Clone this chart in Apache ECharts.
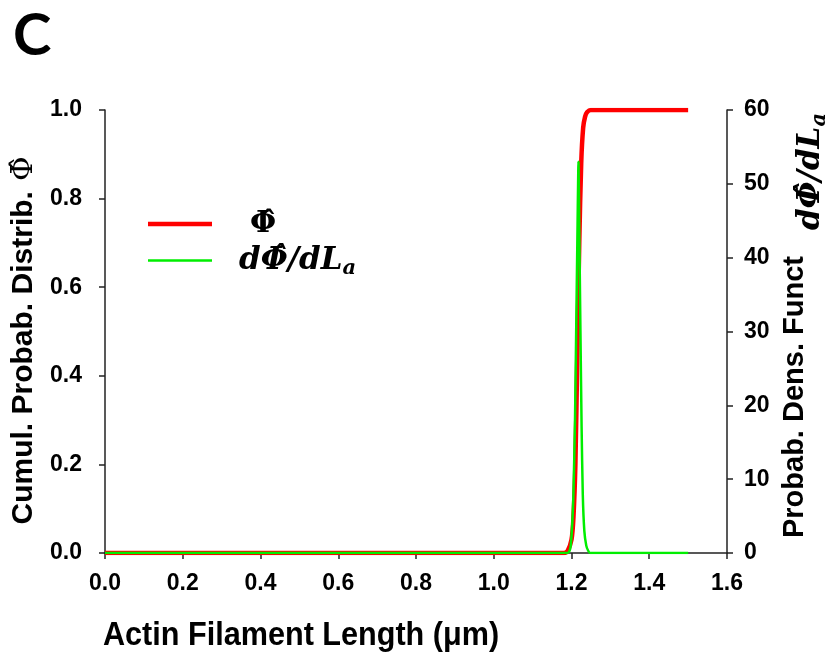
<!DOCTYPE html>
<html>
<head>
<meta charset="utf-8">
<script src="https://cdn.jsdelivr.net/npm/echarts@6/dist/echarts.min.js"></script>
<style>
  html, body { margin: 0; padding: 0; background: #fff; }
  #chart { width: 831px; height: 659px; }
</style>
</head>
<body>
<div id="chart"></div>
<script>
// 累积分布 (左轴)
const cdfLength = [0, 1.0, 1.18, 1.19, 1.2, 1.205, 1.21, 1.215, 1.22, 1.225, 1.23, 1.235, 1.24, 1.25, 1.35, 1.5]
const cdfValue  = [0, 0, 0, 0.005, 0.03, 0.08, 0.2, 0.45, 0.7, 0.88, 0.96, 0.985, 0.995, 1, 1, 1]

// 概率密度 (右轴)
const pdfLength = [0, 1.0, 1.19, 1.195, 1.198, 1.202, 1.205, 1.209, 1.212, 1.215, 1.218, 1.22, 1.223, 1.226, 1.229, 1.233, 1.238, 1.243, 1.248, 1.35, 1.5]
const pdfValue  = [0, 0, 0, 0.3, 1, 4, 8, 18, 30, 42, 53, 44, 30, 17, 8, 3, 1, 0.3, 0, 0, 0]

const cdfName = 'Φ\u0302'
const pdfName = 'dΦ\u0302/dLa'

const labelFont = '"Liberation Sans", Arial, sans-serif'
const mathFont = '"DejaVu Serif", "Liberation Serif", serif'

const chart = echarts.init(document.getElementById('chart'))

const axisLineStyle = { color: '#222', width: 1.5 }
const tickLabel = { color: '#000', fontSize: 23, fontWeight: 'bold', fontFamily: labelFont }

const option = {
  animation: false,
  title: {
    text: 'C',
    left: 8,
    top: 2,
    textStyle: { fontSize: 58, fontWeight: 'bold', fontFamily: 'Lato, "Open Sans", sans-serif', color: '#000' }
  },
  // 横轴标题 (字体较窄, 横向压缩)
  graphic: [
    {
      type: 'text',
      left: 103,
      top: 619,
      scaleX: 0.9,
      style: {
        text: 'Actin Filament Length (μm)',
        font: 'bold 34px "Liberation Sans", Arial, sans-serif',
        fill: '#000'
      }
    }
  ],
  legend: {
    orient: 'vertical',
    left: 143,
    top: 204,
    itemWidth: 64,
    itemHeight: 14,
    itemGap: 6,
    symbolKeepAspect: true,
    data: [
      { name: cdfName, icon: 'path://M0,0H64V4.5H0Z' },
      { name: pdfName, icon: 'path://M0,0H64V2.5H0Z' }
    ],
    formatter: name => name === cdfName
      ? '{p|' + cdfName + '}'
      : '{i|dΦ\u0302/dL}{s|a}',
    textStyle: {
      rich: {
        p: { fontSize: 30, fontWeight: 'bold', fontFamily: mathFont, color: '#000', padding: [0, 0, 0, 33], height: 36 },
        i: { fontSize: 31, fontWeight: 'bold', fontStyle: 'italic', fontFamily: mathFont, color: '#000', padding: [0, 0, 0, 22], height: 36 },
        s: { fontSize: 21, fontWeight: 'bold', fontStyle: 'italic', fontFamily: mathFont, color: '#000', padding: [16, 0, 0, 0], height: 36 }
      }
    }
  },
  grid: { left: 105, right: 104, top: 110, bottom: 106, outerBoundsMode: 'none', containLabel: false },
  xAxis: {
    type: 'value',
    min: 0,
    max: 1.6,
    interval: 0.2,
    axisLine: { onZero: false, lineStyle: axisLineStyle },
    axisTick: { inside: false, length: 6, lineStyle: axisLineStyle },
    splitLine: { show: false },
    axisLabel: Object.assign({ margin: 19, formatter: v => v.toFixed(1) }, tickLabel)
  },
  yAxis: [
    {
      type: 'value',
      position: 'left',
      min: 0,
      max: 1,
      interval: 0.2,
      name: '{t|Cumul. Probab. Distrib.}   {p|Φ\u0302}',
      nameLocation: 'middle',
      nameRotate: 90,
      nameGap: 65,
      nameTextStyle: {
        padding: [0, 18, 0, 0],
        rich: {
          t: { fontSize: 30, fontWeight: 'bold', fontFamily: labelFont, color: '#000' },
          p: { fontSize: 30, fontFamily: mathFont, color: '#000' }
        }
      },
      axisLine: { show: true, lineStyle: axisLineStyle },
      axisTick: { show: true, length: 6, lineStyle: axisLineStyle },
      splitLine: { show: false },
      axisLabel: Object.assign({ margin: 23, formatter: v => v.toFixed(1) }, tickLabel)
    },
    {
      type: 'value',
      position: 'right',
      min: 0,
      max: 60,
      interval: 10,
      name: '{t|Probab. Dens. Funct}{i|dΦ\u0302/dL}{s|a}',
      nameLocation: 'middle',
      nameRotate: 90,
      nameGap: 46,
      nameTextStyle: {
        padding: [0, 0, 0, 12],
        rich: {
          t: { fontSize: 29, fontWeight: 'bold', fontFamily: labelFont, color: '#000', verticalAlign: 'top', padding: [0, 0, 20, 0] },
          i: { fontSize: 31, fontWeight: 'bold', fontStyle: 'italic', fontFamily: mathFont, color: '#000', verticalAlign: 'top', padding: [15, 0, 0, 26] },
          s: { fontSize: 21, fontWeight: 'bold', fontStyle: 'italic', fontFamily: mathFont, color: '#000', verticalAlign: 'top', padding: [29, 0, 0, 0] }
        }
      },
      axisLine: { show: true, lineStyle: axisLineStyle },
      axisTick: { show: true, length: 6, lineStyle: axisLineStyle },
      splitLine: { show: false },
      axisLabel: Object.assign({ margin: 17 }, tickLabel)
    }
  ],
  series: [
    {
      name: cdfName,
      type: 'line',
      yAxisIndex: 0,
      symbol: 'none',
      smooth: 0.3,
      lineStyle: { color: '#ff0000', width: 4.5 },
      itemStyle: { color: '#ff0000' },
      data: cdfLength.map((x, i) => [x, cdfValue[i]])
    },
    {
      name: pdfName,
      type: 'line',
      yAxisIndex: 1,
      symbol: 'none',
      smooth: 0.2,
      lineStyle: { color: '#00ee00', width: 2.5 },
      itemStyle: { color: '#00ee00' },
      data: pdfLength.map((x, i) => [x, pdfValue[i]])
    }
  ]
}

chart.setOption(option)
</script>
</body>
</html>
